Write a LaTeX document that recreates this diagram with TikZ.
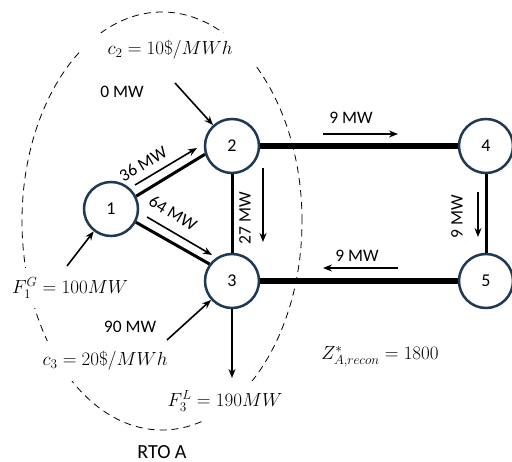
\documentclass[tikz,border=0pt]{standalone}
\usepackage{fontspec}
\newfontfamily\cfont{Carlito}
\usetikzlibrary{arrows.meta}
\definecolor{navy}{RGB}{31,56,84}
\begin{document}
\begin{tikzpicture}[x=1pt,y=-1pt,
  bus/.style={circle,draw=navy,line width=2.5pt,fill=white,minimum size=54pt,inner sep=0pt,font=\cfont\fontsize{18}{20}\selectfont},
  lineA/.style={line width=3pt},
  lineB/.style={line width=6.5pt},
  flow/.style={line width=1.6pt,-{Stealth[length=9pt,width=7pt]}},
  mw/.style={font=\cfont\fontsize{17.5}{19}\selectfont,inner sep=1pt},
  mthtext/.style={font=\fontsize{17.28}{21}\selectfont,scale=1.1},
  mth/.style={mthtext,fill=white,inner xsep=3pt,inner ysep=9pt},
]
\useasboundingbox (0,0) rectangle (512,462);
\draw[line width=0.8pt,dash pattern=on 7pt off 5pt] (162,221) ellipse [x radius=140pt, y radius=209pt];
% buses
\node[bus] (n1) at (111,209) {1};
\node[bus] (n2) at (232,146) {2};
\node[bus] (n3) at (232,281) {3};
\node[bus] (n4) at (486,146) {4};
\node[bus] (n5) at (486,281) {5};
% math labels (white boxes break the dashed boundary)
\node[mth,inner xsep=25pt,inner ysep=7pt] (c2) at (170,50) {$c_2 = 10\$/MWh$};
\node[mth] (f1) at (70,288) {$F_1^G = 100MW$};
\node[mth,inner ysep=10pt] (c3) at (105,361) {$c_3 = 20\$/MWh$};
\node[mth] (f3) at (225,401) {$F_3^L = 190MW$};
\node[mthtext] (z) at (380,357) {$Z^*_{A,recon} = 1800$};
\node[mw,font=\cfont\fontsize{20}{22}\selectfont] (rto) at (162,452) {RTO A};
% lines
\draw[lineA] (n1.27) -- (n2.197);
\draw[lineA] (n1.-28) -- (n3.143);
\draw[lineA] (n2) -- (n3);
\draw[lineA] (n4) -- (n5);
\draw[lineB] (n2) -- (n4);
\draw[lineB] (n3) -- (n5);
% coordinates for free arrow ends
\coordinate (a12s) at (135,185); \coordinate (a12e) at (197,148);
\coordinate (a13s) at (147,217); \coordinate (a13e) at (212,255);
\coordinate (a23s) at (263,168); \coordinate (a23e) at (263,242);
\coordinate (g2) at (175,83);
\coordinate (g1) at (67,266);
\coordinate (g3) at (167,340);
\coordinate (l3) at (232,378);
\coordinate (a24s) at (323,134); \coordinate (a24e) at (398,134);
\coordinate (a53s) at (398,268); \coordinate (a53e) at (323,268);
\coordinate (a45s) at (478,192); \coordinate (a45e) at (478,237);
% flows
\draw[flow] (a12s) -- (a12e);
\draw[flow] (a13s) -- (a13e);
\draw[flow] (a23s) -- (a23e);
\draw[flow] (g2) -- (n2);
\draw[flow] (g1) -- (n1);
\draw[flow] (g3) -- (n3);
\draw[flow] (n3) -- (l3);
\draw[flow] (a24s) -- (a24e);
\draw[flow] (a53s) -- (a53e);
\draw[flow] (a45s) -- (a45e);
% flow labels
\node[mw,rotate=31] (t12) at (143,164) {36 MW};
\node[mw,rotate=-31] (t13) at (173,213) {64 MW};
\node[mw,rotate=90] (t23) at (245,218) {27 MW};
\node[mw] (t0) at (122,92) {0 MW};
\node[mw] (t90) at (130,327) {90 MW};
\node[mw] (t24) at (351,118) {9 MW};
\node[mw] (t53) at (357,256) {9 MW};
\node[mw,rotate=90] (t45) at (457,217) {9 MW};
\end{tikzpicture}
\end{document}
